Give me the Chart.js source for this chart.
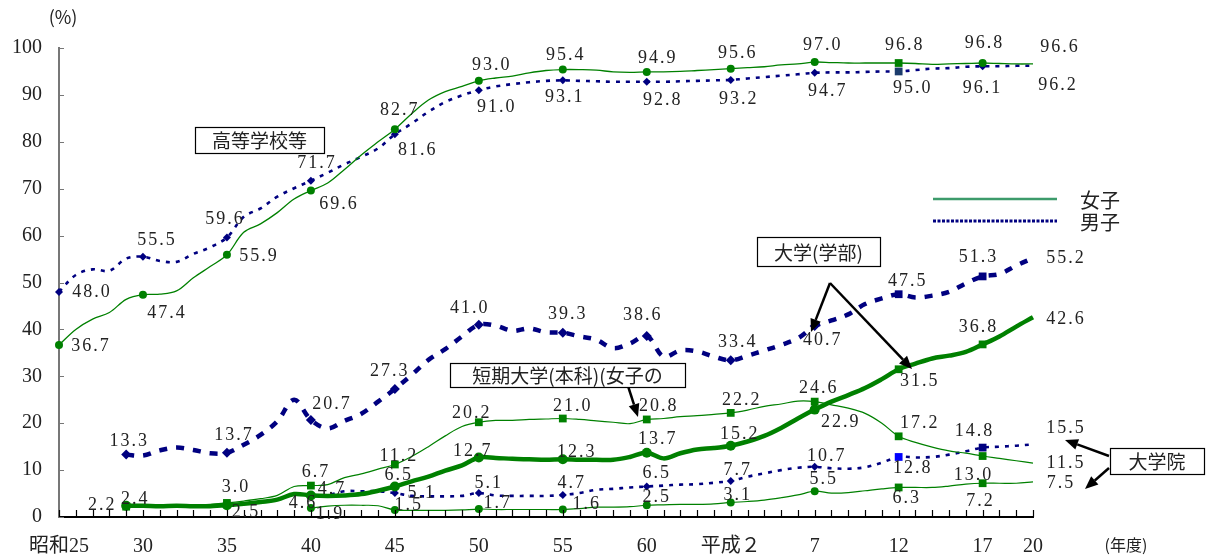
<!DOCTYPE html>
<html lang="ja">
<head>
<meta charset="utf-8">
<title>進学率の推移</title>
<script src="https://cdn.jsdelivr.net/npm/chart.js@4.4.1/dist/chart.umd.min.js"></script>
<style>
  html, body { margin: 0; padding: 0; background: #fff; }
  #wrap { width: 1212px; height: 560px; }
</style>
</head>
<body>
<div id="wrap"><canvas id="chart" width="1212" height="560"></canvas></div>
<script>
// 年度（昭和25 = 1950 〜 平成20 = 2008）
const years = [
  1950, 1951, 1952, 1953, 1954, 1955, 1956, 1957, 1958, 1959,
  1960, 1961, 1962, 1963, 1964, 1965, 1966, 1967, 1968, 1969,
  1970, 1971, 1972, 1973, 1974, 1975, 1976, 1977, 1978, 1979,
  1980, 1981, 1982, 1983, 1984, 1985, 1986, 1987, 1988, 1989,
  1990, 1991, 1992, 1993, 1994, 1995, 1996, 1997, 1998, 1999,
  2000, 2001, 2002, 2003, 2004, 2005, 2006, 2007, 2008,
];
const tickYears = [1950, 1955, 1960, 1965, 1970, 1975, 1980, 1985, 1990, 1995, 2000, 2005, 2008];
const tickLabels = ['昭和25', '30', '35', '40', '45', '50', '55', '60', '平成２', '7', '12', '17', '20'];
const yTicks = [0, 10, 20, 30, 40, 50, 60, 70, 80, 90, 100];

// 高等学校等
const highSchoolFemale = [
  36.7, 40.0, 42.2, 43.6, 46.4, 47.4, 47.5, 48.2, 51.0, 53.4,
  55.9, 60.7, 62.5, 64.9, 67.8, 69.6, 71.2, 74.1, 77.2, 80.0,
  82.7, 86.0, 88.9, 90.7, 91.8, 93.0, 93.6, 94.0, 94.7, 95.2,
  95.4, 95.4, 95.3, 94.9, 94.8, 94.9, 94.9, 95.0, 95.2, 95.4,
  95.6, 95.8, 96.0, 96.4, 96.6, 97.0, 96.9, 96.8, 96.8, 96.8,
  96.8, 96.7, 96.5, 96.6, 96.7, 96.8, 96.7, 96.6, 96.6,
];
const highSchoolMale = [
  48.0, 51.6, 52.8, 52.5, 55.1, 55.5, 54.6, 54.4, 56.1, 57.5,
  59.6, 64.0, 65.8, 68.3, 70.1, 71.7, 73.4, 75.2, 76.8, 78.6,
  81.6, 83.9, 86.4, 88.5, 89.9, 91.0, 91.8, 92.3, 92.7, 93.0,
  93.1, 93.0, 92.9, 92.8, 92.8, 92.8, 92.8, 92.9, 93.0, 93.1,
  93.2, 93.5, 93.8, 94.1, 94.4, 94.7, 94.8, 94.8, 94.9, 95.0,
  95.0, 95.3, 95.6, 95.7, 96.0, 96.1, 96.1, 96.2, 96.2,
];
// 大学（学部）
const univMale = [
  null, null, null, null, 13.3, 13.1, 14.2, 14.8, 14.3, 13.6,
  13.7, 15.4, 17.5, 20.4, 25.0, 20.7, 18.9, 20.5, 22.0, 24.6,
  27.3, 30.3, 33.5, 35.8, 38.5, 41.0, 40.8, 39.7, 40.2, 39.4,
  39.3, 38.5, 37.8, 36.0, 37.0, 38.6, 34.2, 35.5, 35.3, 34.2,
  33.4, 34.4, 35.5, 36.7, 38.1, 40.7, 41.9, 43.2, 45.4, 46.6,
  47.5, 46.8, 47.2, 48.0, 49.8, 51.3, 51.8, 53.6, 55.2,
];
const univFemale = [
  null, null, null, null, 2.4, 2.4, 2.3, 2.4, 2.3, 2.3,
  2.5, 2.8, 3.2, 3.7, 4.9, 4.6, 4.5, 4.6, 4.9, 5.6,
  6.5, 7.6, 8.6, 9.9, 11.0, 12.7, 12.6, 12.4, 12.3, 12.2,
  12.3, 12.2, 12.2, 12.2, 12.8, 13.7, 12.5, 13.6, 14.4, 14.7,
  15.2, 16.1, 17.3, 19.0, 21.0, 22.9, 24.6, 26.0, 27.5, 29.4,
  31.5, 32.7, 33.8, 34.4, 35.2, 36.8, 38.5, 40.6, 42.6,
];
// 短期大学（本科）（女子のみ）
const juniorCollege = [
  null, null, null, null, 2.2, 2.3, 2.3, 2.4, 2.5, 2.7,
  3.0, 3.4, 3.9, 4.6, 6.5, 6.7, 6.9, 8.4, 9.2, 10.2,
  11.2, 12.9, 15.0, 17.3, 19.3, 20.2, 20.6, 20.6, 20.8, 20.9,
  21.0, 20.8, 20.5, 20.2, 19.9, 20.8, 21.0, 21.4, 21.6, 21.9,
  22.2, 22.8, 23.6, 24.1, 24.7, 24.6, 23.9, 23.2, 22.1, 20.0,
  17.2, 15.9, 14.9, 14.1, 13.6, 13.0, 12.5, 12.0, 11.5,
];
// 大学院
const gradMale = [
  null, null, null, null, null, null, null, null, null, null,
  null, null, null, null, null, 4.7, 4.7, 5.5, 5.5, 5.5,
  5.1, 4.5, 4.4, 4.4, 4.5, 5.1, 4.6, 4.5, 4.5, 4.5,
  4.7, 5.1, 5.8, 6.0, 6.3, 6.5, 6.7, 6.9, 7.0, 7.3,
  7.7, 8.6, 9.3, 10.0, 10.5, 10.7, 10.4, 10.3, 10.6, 11.6,
  12.8, 12.7, 12.8, 13.3, 14.0, 14.8, 15.0, 15.2, 15.5,
];
const gradFemale = [
  null, null, null, null, null, null, null, null, null, null,
  null, null, null, null, null, 1.9, 2.3, 2.5, 2.5, 2.4,
  1.5, 1.4, 1.4, 1.4, 1.5, 1.7, 1.6, 1.6, 1.6, 1.6,
  1.6, 1.8, 2.1, 2.1, 2.2, 2.5, 2.6, 2.7, 2.7, 2.8,
  3.1, 3.3, 3.6, 4.1, 4.7, 5.5, 5.1, 5.2, 5.6, 6.0,
  6.3, 6.3, 6.3, 6.6, 7.0, 7.2, 7.2, 7.2, 7.5,
];

const GREEN = '#008000';
const NAVY = '#000080';
const NUM_FONT = '"Liberation Serif", "DejaVu Serif", serif';
const JP_FONT = '"Noto Sans CJK JP", sans-serif';

// 数値ラベルの位置（年度, dx, dy）
const labelOffsets = [
  [highSchoolFemale, [[1950, 32, 1], [1955, 24, 19], [1960, 32, 1], [1965, 28, 14], [1970, 5, -19], [1975, 13, -16], [1980, 3, -14], [1985, 11, -14], [1990, 7, -15], [1995, 8, -17], [2000, 6, -18], [2005, 2, -20], [2008, 27, -17]]],
  [highSchoolMale, [[1950, 33, 0], [1955, 14, -16], [1960, -2, -18], [1965, 6, -17], [1970, 23, 16], [1975, 18, 17], [1980, 2, 17], [1985, 16, 18], [1990, 8, 19], [1995, 13, 18], [2000, 14, 17], [2005, 0, 22], [2008, 25, 19]]],
  [univMale, [[1954, 3, -13], [1960, 7, -17], [1965, 21, -16], [1970, -5, -18], [1975, -9, -16], [1980, 5, -18], [1985, -4, -21], [1990, 7, -18], [1995, 8, 14], [2000, 9, -13], [2005, -4, -19], [2008, 33, 0]]],
  [univFemale, [[1954, 9, -6], [1960, 19, 7], [1965, -8, 8], [1970, 4, -11], [1975, -6, -6], [1980, 14, -7], [1985, 11, -13], [1990, 9, -11], [1995, 26, 13], [2000, 21, 12], [2005, -4, -17], [2008, 33, 2]]],
  [juniorCollege, [[1954, -24, -1], [1960, 9, -16], [1965, 5, -13], [1970, 4, -8], [1975, -7, -9], [1980, 10, -12], [1985, 12, -13], [1990, 11, -13], [1995, 4, -13], [2000, 21, -13], [2005, -9, 19], [2008, 33, 0]]],
  [gradMale, [[1965, 21, -6], [1970, 27, 0], [1975, 10, -10], [1980, 9, -12], [1985, 10, -13], [1990, 7, -11], [1995, 12, -11], [2000, 14, 11], [2005, -8, -16], [2008, 33, -16]]],
  [gradFemale, [[1965, 19, 6], [1970, 14, -5], [1975, 19, -6], [1980, 24, -5], [1985, 10, -8], [1990, 7, -7], [1995, 9, -12], [2000, 8, 11], [2005, -2, 18], [2008, 28, 1]]],
];

// マーカー：最初の年と5年ごと（2008年は無し）
const markers = (from, style, r, color, last = {}) => {
  const pointStyle = [], pointRadius = [], pointColor = [];
  years.forEach((y) => {
    const on = y === from || (y % 5 === 0 && y >= from + 5 && y < 2008);
    const sp = last[y];
    pointStyle.push(sp ? 'rect' : style);
    pointRadius.push(on ? (sp ? 5.5 : r) : 0);
    pointColor.push(sp && sp !== true ? sp : color);
  });
  return {
    pointStyle, pointRadius, pointBackgroundColor: pointColor,
    pointBorderWidth: 0, pointHoverRadius: 0,
  };
};

const line = (data, color, width, dash, order, pts) => ({
  data, borderColor: color, borderWidth: width, borderDash: dash,
  tension: 0.35, fill: false, clip: false, order, ...pts,
});

const datasets = [
  line(highSchoolFemale, GREEN, 1.3, [], 5, markers(1950, 'circle', 4, GREEN, { 2000: true })),
  line(highSchoolMale, NAVY, 2.6, [4, 6], 6, markers(1950, 'rectRot', 4, NAVY, { 2000: '#1c3c6c' })),
  line(univMale, NAVY, 4.5, [8, 9], 2, markers(1954, 'rectRot', 5, NAVY, { 2000: true, 2005: true })),
  line(univFemale, GREEN, 4.5, [], 0, markers(1954, 'circle', 5, GREEN, { 2000: true, 2005: true })),
  line(juniorCollege, GREEN, 1.2, [], 1, markers(1954, 'rect', 5.5, GREEN)),
  line(gradMale, NAVY, 2.6, [4, 6], 3, markers(1965, 'rectRot', 4, NAVY, { 2000: '#0000ff', 2005: true })),
  line(gradFemale, GREEN, 1.2, [], 4, markers(1965, 'circle', 4, GREEN, { 2000: true, 2005: true })),
];

const arrow = (ctx, x1, y1, x2, y2) => {
  const a = Math.atan2(y2 - y1, x2 - x1);
  const len = 13, half = 5.5;
  const bx = x2 - len * Math.cos(a), by = y2 - len * Math.sin(a);
  ctx.beginPath();
  ctx.moveTo(x1, y1);
  ctx.lineTo(bx, by);
  ctx.stroke();
  ctx.beginPath();
  ctx.moveTo(x2, y2);
  ctx.lineTo(bx + half * Math.sin(a), by - half * Math.cos(a));
  ctx.lineTo(bx - half * Math.sin(a), by + half * Math.cos(a));
  ctx.closePath();
  ctx.fill();
};

const box = (ctx, x1, y1, x2, y2, text) => {
  ctx.fillStyle = '#fff';
  ctx.fillRect(x1, y1, x2 - x1, y2 - y1);
  ctx.strokeStyle = '#000';
  ctx.lineWidth = 1.2;
  ctx.strokeRect(x1 + 0.5, y1 + 0.5, x2 - x1, y2 - y1);
  ctx.fillStyle = '#222';
  ctx.font = '19px ' + JP_FONT;
  ctx.textAlign = 'center';
  ctx.textBaseline = 'middle';
  ctx.fillText(text, (x1 + x2) / 2, (y1 + y2) / 2 + 1);
};

const decorations = {
  id: 'decorations',
  afterDatasetsDraw(chart) {
    const { ctx, chartArea: area, scales: { x, y } } = chart;
    ctx.save();

    // 目盛り（内向き）
    ctx.strokeStyle = '#000';
    ctx.lineWidth = 1.2;
    ctx.beginPath();
    years.forEach((yr, i) => {
      const px = Math.round(x.getPixelForValue(i)) + 0.5;
      ctx.moveTo(px, area.bottom);
      ctx.lineTo(px, area.bottom - 7);
    });
    ctx.stroke();
    ctx.strokeStyle = '#777';
    ctx.beginPath();
    yTicks.forEach((v) => {
      const py = Math.round(y.getPixelForValue(v)) + 0.5;
      ctx.moveTo(area.left, py);
      ctx.lineTo(area.left + 5, py);
    });
    ctx.stroke();

    // 数値ラベル
    ctx.fillStyle = '#222';
    ctx.font = '18px ' + NUM_FONT;
    ctx.letterSpacing = '2px';
    ctx.textAlign = 'center';
    ctx.textBaseline = 'middle';
    labelOffsets.forEach(([series, offs]) => {
      offs.forEach(([yr, dx, dy]) => {
        const i = years.indexOf(yr);
        const v = series[i];
        ctx.fillText(v.toFixed(1), x.getPixelForValue(i) + dx, y.getPixelForValue(v) + dy);
      });
    });
    ctx.letterSpacing = '0px';

    // 単位
    ctx.font = '18px ' + JP_FONT;
    ctx.fillText('(%)', 63, 17);
    ctx.font = '16px ' + JP_FONT;
    ctx.fillText('(年度)', 1126, 545);

    // 凡例
    ctx.strokeStyle = '#3d9b6b';
    ctx.lineWidth = 2.5;
    ctx.beginPath();
    ctx.moveTo(933, 199);
    ctx.lineTo(1057, 199);
    ctx.stroke();
    ctx.strokeStyle = NAVY;
    ctx.lineWidth = 3;
    ctx.setLineDash([3, 1.5]);
    ctx.beginPath();
    ctx.moveTo(933, 221);
    ctx.lineTo(1057, 221);
    ctx.stroke();
    ctx.setLineDash([]);
    ctx.fillStyle = '#222';
    ctx.font = '20px ' + JP_FONT;
    ctx.textAlign = 'left';
    ctx.fillText('女子', 1080, 200);
    ctx.fillText('男子', 1080, 222);

    // 矢印
    ctx.strokeStyle = '#000';
    ctx.fillStyle = '#000';
    ctx.lineWidth = 2.5;
    arrow(ctx, 830, 283, 811, 332);
    arrow(ctx, 830, 283, 912, 369);
    arrow(ctx, 628, 386, 638, 417);
    arrow(ctx, 1109, 456, 1065, 440);
    arrow(ctx, 1109, 468, 1085, 489);

    // 注記ボックス
    box(ctx, 195, 127, 324, 153, '高等学校等');
    box(ctx, 757, 237, 880, 266, '大学(学部)');
    box(ctx, 450, 363, 685, 387, '短期大学(本科)(女子の');
    box(ctx, 1110, 448, 1204, 474, '大学院');

    ctx.restore();
  },
};

new Chart(document.getElementById('chart').getContext('2d'), {
  type: 'line',
  data: { labels: years, datasets },
  options: {
    responsive: false,
    animation: false,
    devicePixelRatio: 1,
    layout: { padding: { top: 48, right: 179, left: 0, bottom: 0 } },
    plugins: { legend: { display: false }, tooltip: { enabled: false } },
    scales: {
      x: {
        grid: { display: false, drawTicks: false },
        border: { display: true, color: '#000', width: 2 },
        ticks: {
          autoSkip: false,
          maxRotation: 0,
          padding: 18,
          color: '#222',
          font: { family: NUM_FONT + ', ' + JP_FONT, size: 20 },
          callback: (v, i) => {
            const k = tickYears.indexOf(years[i]);
            return k >= 0 ? tickLabels[k] : '';
          },
        },
        afterFit: (s) => { s.height = 43; },
      },
      y: {
        min: 0,
        max: 100,
        grid: { display: false, drawTicks: false },
        border: { display: true, color: '#777', width: 2 },
        ticks: {
          stepSize: 10,
          padding: 17,
          color: '#222',
          font: { family: NUM_FONT, size: 20 },
        },
        afterFit: (s) => { s.width = 59; },
      },
    },
  },
  plugins: [decorations],
});
</script>
</body>
</html>
